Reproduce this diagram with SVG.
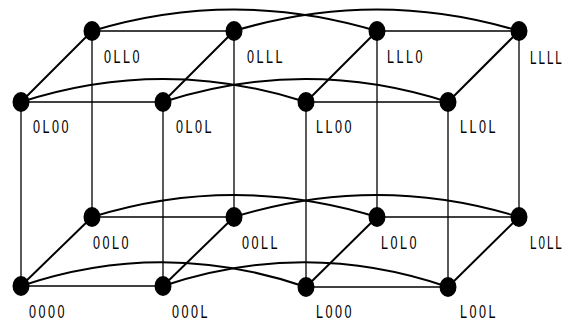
<svg xmlns="http://www.w3.org/2000/svg" width="563" height="323" viewBox="0 0 563 323">
  <style>
    .bg { fill: #ffffff; }
    .edge { stroke: #000; stroke-width: 1.3; fill: none; }
    .diag { stroke: #000; stroke-width: 2; fill: none; }
    .arc { stroke: #000; stroke-width: 2; fill: none; }
    .dot { fill: #000; }
    .label { font-family: "Liberation Sans", Arial, sans-serif; font-size: 18px; letter-spacing: 3.6px; fill: #000; }
    .label.tight { letter-spacing: 3px; }
  </style>
  <rect class="bg" x="0" y="0" width="563" height="323"/>

  <g id="connectors">
    <!-- vertical edges (upper layer to lower layer) -->
    <line class="edge" x1="21" y1="102" x2="21" y2="286"/>
    <line class="edge" x1="92" y1="31" x2="92" y2="217"/>
    <line class="edge" x1="163" y1="102" x2="163" y2="286"/>
    <line class="edge" x1="234" y1="31" x2="234" y2="217"/>
    <line class="edge" x1="306" y1="102" x2="306" y2="287"/>
    <line class="edge" x1="377" y1="31" x2="377" y2="217"/>
    <line class="edge" x1="448" y1="102" x2="448" y2="287"/>
    <line class="edge" x1="519" y1="31" x2="519" y2="217"/>

    <!-- horizontal edges -->
    <line class="edge" x1="92" y1="31" x2="234" y2="31"/>
    <line class="edge" x1="377" y1="31" x2="519" y2="31"/>
    <line class="edge" x1="21" y1="102" x2="163" y2="102"/>
    <line class="edge" x1="306" y1="102" x2="448" y2="102"/>
    <line class="edge" x1="92" y1="217" x2="234" y2="217"/>
    <line class="edge" x1="377" y1="217" x2="519" y2="217"/>
    <line class="edge" x1="21" y1="286" x2="163" y2="286"/>
    <line class="edge" x1="306" y1="287" x2="448" y2="287"/>

    <!-- depth edges -->
    <line class="diag" x1="21" y1="102" x2="92" y2="31"/>
    <line class="diag" x1="163" y1="102" x2="234" y2="31"/>
    <line class="diag" x1="306" y1="102" x2="377" y2="31"/>
    <line class="diag" x1="448" y1="102" x2="519" y2="31"/>
    <line class="diag" x1="21" y1="286" x2="92" y2="217"/>
    <line class="diag" x1="163" y1="286" x2="234" y2="217"/>
    <line class="diag" x1="306" y1="287" x2="377" y2="217"/>
    <line class="diag" x1="448" y1="287" x2="519" y2="217"/>

    <!-- arcs joining the two cubes -->
    <path class="arc" d="M92,31 Q234,-12 377,31"/>
    <path class="arc" d="M234,31 Q377,-12 519,31"/>
    <path class="arc" d="M21,102 Q163,56 306,102"/>
    <path class="arc" d="M163,102 Q306,56 448,102"/>
    <path class="arc" d="M92,217 Q234,173 377,217"/>
    <path class="arc" d="M234,217 Q377,173 519,217"/>
    <path class="arc" d="M21,286 Q163,238 306,287"/>
    <path class="arc" d="M163,286 Q306,238 448,287"/>
  </g>

  <g id="n0110"><ellipse class="dot" cx="92" cy="31" rx="8.5" ry="10"/><text class="label" transform="translate(104,63) scale(0.7,1)">0LL0</text></g>
  <g id="n0111"><ellipse class="dot" cx="234" cy="31" rx="8.5" ry="10"/><text class="label" transform="translate(247,63) scale(0.7,1)">0LLL</text></g>
  <g id="n1110"><ellipse class="dot" cx="377" cy="31" rx="8.5" ry="10"/><text class="label" transform="translate(387,63) scale(0.7,1)">LLL0</text></g>
  <g id="n1111"><ellipse class="dot" cx="519" cy="31" rx="8.5" ry="10"/><text class="label tight" transform="translate(530,64) scale(0.65,1)">LLLL</text></g>

  <g id="n0100"><ellipse class="dot" cx="21" cy="102" rx="8.5" ry="10"/><text class="label" transform="translate(33,133) scale(0.7,1)">0L00</text></g>
  <g id="n0101"><ellipse class="dot" cx="163" cy="102" rx="8.5" ry="10"/><text class="label" transform="translate(176,133) scale(0.7,1)">0L0L</text></g>
  <g id="n1100"><ellipse class="dot" cx="306" cy="102" rx="8.5" ry="10"/><text class="label" transform="translate(316,133) scale(0.7,1)">LL00</text></g>
  <g id="n1101"><ellipse class="dot" cx="448" cy="102" rx="8.5" ry="10"/><text class="label" transform="translate(460,133) scale(0.7,1)">LL0L</text></g>

  <g id="n0010"><ellipse class="dot" cx="92" cy="217" rx="8.5" ry="10"/><text class="label" transform="translate(93,249) scale(0.7,1)">00L0</text></g>
  <g id="n0011"><ellipse class="dot" cx="234" cy="217" rx="8.5" ry="10"/><text class="label" transform="translate(242,249) scale(0.7,1)">00LL</text></g>
  <g id="n1010"><ellipse class="dot" cx="377" cy="217" rx="8.5" ry="10"/><text class="label" transform="translate(381,249) scale(0.7,1)">L0L0</text></g>
  <g id="n1011"><ellipse class="dot" cx="519" cy="217" rx="8.5" ry="10"/><text class="label tight" transform="translate(530,249) scale(0.65,1)">L0LL</text></g>

  <g id="n0000"><ellipse class="dot" cx="21" cy="286" rx="8.5" ry="10"/><text class="label" transform="translate(29,318) scale(0.7,1)">0000</text></g>
  <g id="n0001"><ellipse class="dot" cx="163" cy="286" rx="8.5" ry="10"/><text class="label" transform="translate(172,318) scale(0.7,1)">000L</text></g>
  <g id="n1000"><ellipse class="dot" cx="306" cy="287" rx="8.5" ry="10"/><text class="label" transform="translate(316,318) scale(0.7,1)">L000</text></g>
  <g id="n1001"><ellipse class="dot" cx="448" cy="287" rx="8.5" ry="10"/><text class="label" transform="translate(460,318) scale(0.7,1)">L00L</text></g>
</svg>
